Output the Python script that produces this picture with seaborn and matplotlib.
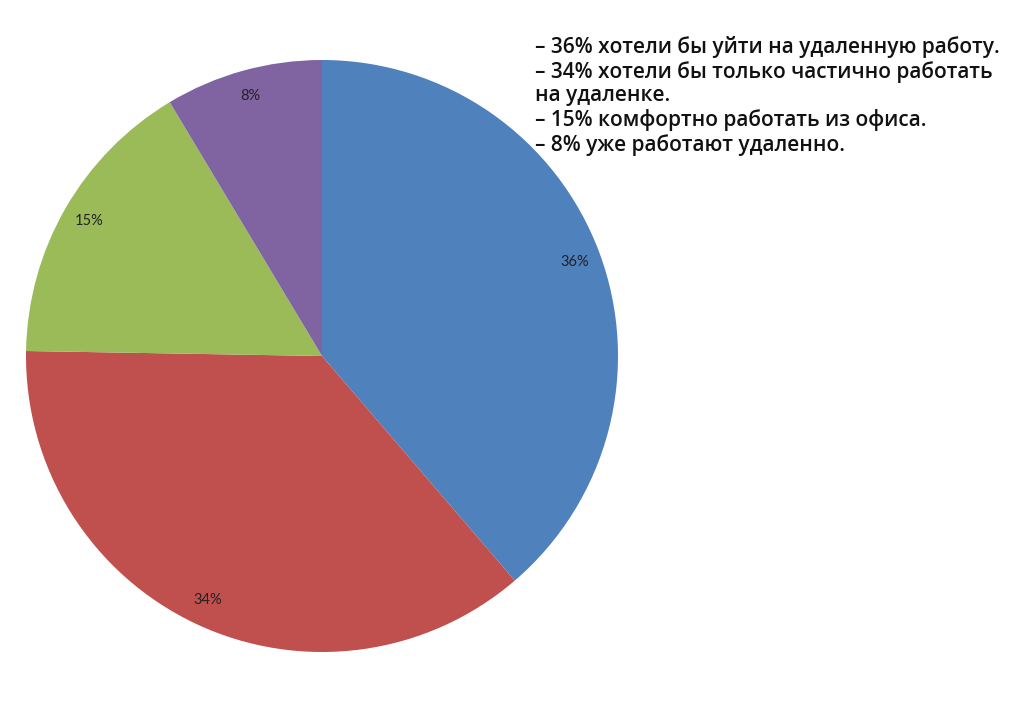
import matplotlib
matplotlib.use("Agg")
import matplotlib.pyplot as plt
import seaborn as sns

# survey answers (values as printed on the chart)
values = [36, 34, 15, 8]
pct_labels = ["36%", "34%", "15%", "8%"]
colors = ["#4F81BD", "#C0504D", "#9BBB59", "#8064A2"]

notes = [
    "– 36% хотели бы уйти на удаленную работу.",
    "– 34% хотели бы только частично работать",
    "на удаленке.",
    "– 15% комфортно работать из офиса.",
    "– 8% уже работают удаленно.",
]

sns.set_theme(style="white")
plt.rcParams["font.family"] = ["DejaVu Sans"]

fig = plt.figure(figsize=(10.24, 7.02), dpi=100)
ax = fig.add_axes([25 / 1024, 50 / 702, 594 / 1024, 592 / 702])

wedges, texts, autotexts = ax.pie(
    values,
    colors=sns.color_palette(colors),
    startangle=90,
    counterclock=False,
    autopct="%1.0f%%",
    pctdistance=0.91,
    wedgeprops=dict(linewidth=0),
    textprops=dict(fontsize=10.5, color="#222222", family="Lato"),
)
for t, s in zip(autotexts, pct_labels):
    t.set_text(s)

ax.set_xlim(-1, 1)
ax.set_ylim(-1, 1)
ax.set_aspect("equal")
ax.axis("off")

fig.text(535 / 1024, 1 - 36 / 702, "\n".join(notes), ha="left", va="top",
         fontsize=15, fontweight="semibold", family="Open Sans",
         color="#111111", linespacing=1.17)

fig.savefig("out.png", dpi=100, facecolor="white")
